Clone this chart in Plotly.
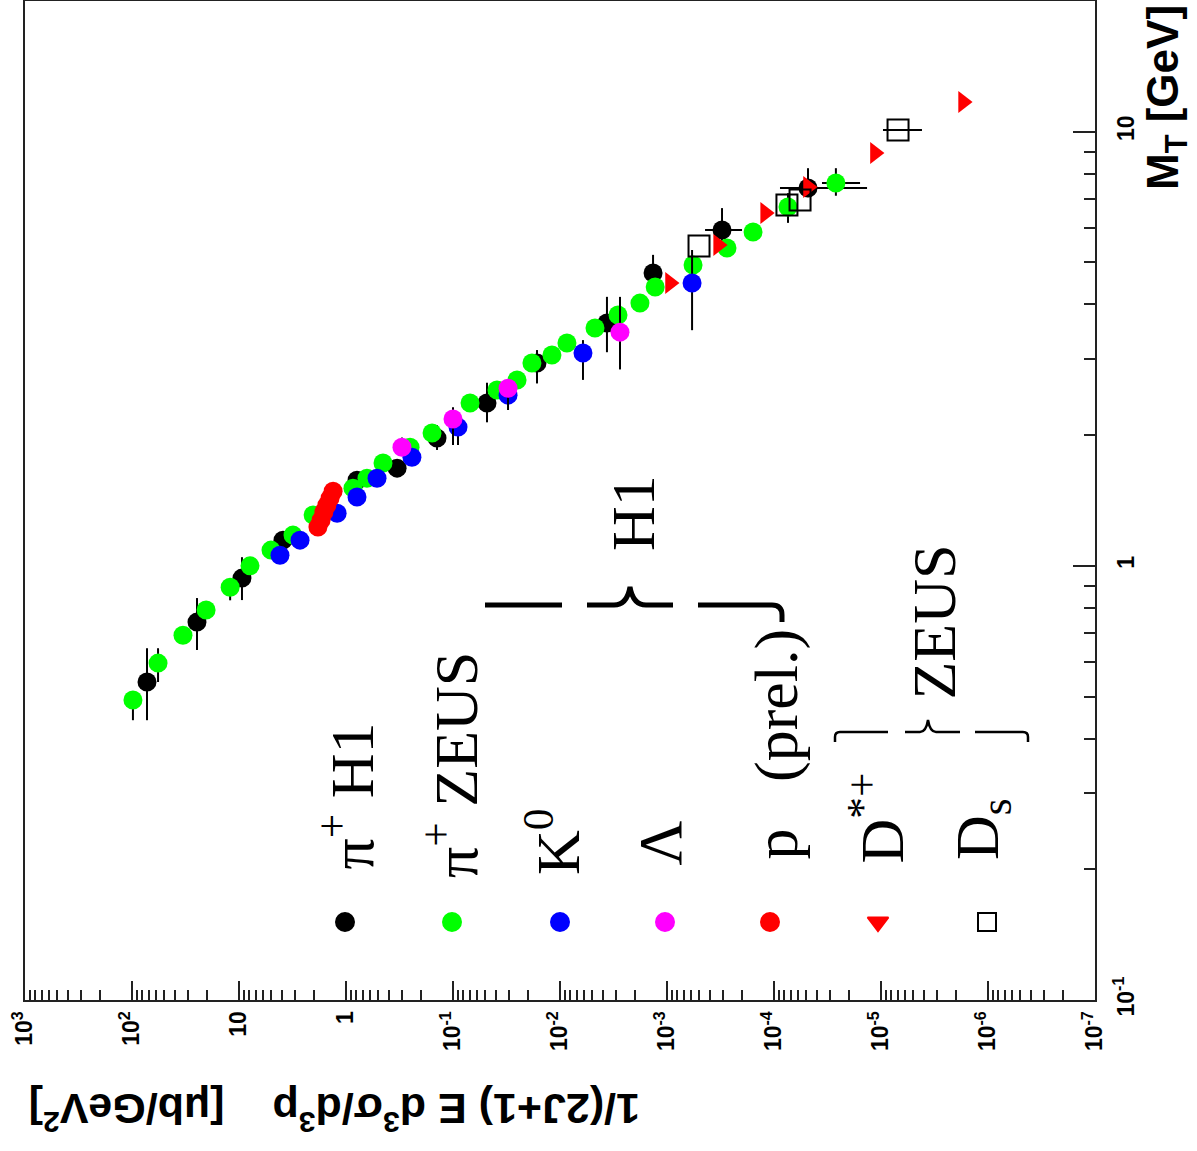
import numpy as np
import plotly.graph_objects as go

# ---------------- data (x: cross section [ub/GeV^2], y: M_T [GeV]) ----------------
# pi+ H1 (black)
pih1_xs = [72.4, 24.7, 9.38, 3.88, 0.789, 0.333, 0.141, 0.0481, 0.0164, 0.00364, 0.00135, 0.000306, 4.81e-5]
pih1_mt = [0.540, 0.742, 0.937, 1.146, 1.575, 1.679, 1.969, 2.371, 2.931, 3.625, 4.724, 5.938, 7.42]
pih1_mt_up = [0.106, 0.101, 0.110, 0.04, 0.04, 0.04, 0.14, 0.27, 0.21, 0.54, 0.48, 0.73, 0.82]
pih1_mt_dn = [0.099, 0.102, 0.103, 0.04, 0.04, 0.04, 0.12, 0.23, 0.30, 0.52, 0.34, 0.74, 0.35]
pih1_xs_up = [0, 0, 0, 0, 0, 0, 0, 0, 0, 0, 0, 1.35e-4, 3.98e-5]
pih1_xs_dn = [0, 0, 0, 0, 0, 0, 0, 0, 0, 0, 0, 1.07e-4, 3.46e-5]

# pi+ ZEUS (green)
piz_xs = [98, 57.1, 33.4, 20.3, 12.1, 7.89, 5.02, 3.13, 2.03, 0.861, 0.637, 0.451, 0.252, 0.157,
          0.0693, 0.0388, 0.0252, 0.0183, 0.0119, 0.00861, 0.00471, 0.00287, 0.00179, 0.00129,
          0.000571, 0.000275, 0.000157, 7.40e-5, 2.64e-5]
piz_mt = [0.491, 0.597, 0.692, 0.791, 0.893, 1.0, 1.087, 1.177, 1.309, 1.510, 1.592, 1.725, 1.875, 2.022,
          2.371, 2.540, 2.679, 2.931, 3.058, 3.259, 3.530, 3.782, 4.029, 4.387,
          4.930, 5.395, 5.872, 6.706, 7.62]
piz_mt_up = [0, 0.049, 0, 0, 0, 0, 0, 0, 0, 0, 0, 0, 0, 0, 0, 0, 0, 0, 0, 0, 0, 0, 0, 0, 0, 0, 0, 0.51, 0.62]
piz_mt_dn = [0.05, 0.057, 0.03, 0, 0.06, 0, 0, 0, 0, 0, 0, 0, 0, 0, 0, 0, 0, 0, 0, 0, 0, 0, 0, 0, 0, 0, 0, 0.54, 0.50]
piz_xs_up = [0] * 28 + [0.92e-5]
piz_xs_dn = [0] * 28 + [1.07e-5]

# K0 (blue)
k0_xs = [4.14, 2.69, 1.21, 0.789, 0.513, 0.242, 0.0898, 0.0306, 0.00610, 0.000583]
k0_mt = [1.058, 1.146, 1.322, 1.440, 1.592, 1.779, 2.087, 2.473, 3.091, 4.480]
k0_mt_up = [0, 0, 0, 0, 0, 0, 0.05, 0.05, 0.22, 0.86]
k0_mt_dn = [0, 0, 0, 0, 0, 0, 0.19, 0.10, 0.41, 0.99]

# Lambda (magenta)
lam_xs = [0.300, 0.100, 0.0306, 0.00275]
lam_mt = [1.875, 2.178, 2.565, 3.454]
lam_mt_up = [0.10, 0.14, 0.05, 0.71]
lam_mt_dn = [0.05, 0.28, 0.28, 0.62]

# p (prel.) (red)
p_xs = [1.83, 1.71, 1.61, 1.51, 1.41, 1.32]
p_mt = [1.228, 1.274, 1.330, 1.380, 1.432, 1.486]

# D*+ ZEUS (red triangles)
dst_xs = [9.38e-4, 3.33e-4, 1.21e-4, 4.81e-5, 1.14e-5, 1.71e-6]
dst_mt = [4.480, 5.484, 6.498, 7.46, 8.93, 11.71]

# Ds ZEUS (open squares)
ds_xs = [5.02e-4, 7.57e-5, 5.71e-5, 6.93e-6]
ds_mt = [5.455, 6.777, 6.961, 10.09]
ds_xs_up = [0, 0, 0, 2.65e-6]
ds_xs_dn = [0, 0, 0, 2.79e-6]

# axis ticks
xs_tick_vals = [1e3, 1e2, 10, 1, 1e-1, 1e-2, 1e-3, 1e-4, 1e-5, 1e-6, 1e-7]
xs_tick_text = ["10<sup>3</sup>", "10<sup>2</sup>", "10", "1", "10<sup>-1</sup>", "10<sup>-2</sup>",
                "10<sup>-3</sup>", "10<sup>-4</sup>", "10<sup>-5</sup>", "10<sup>-6</sup>", "10<sup>-7</sup>"]
mt_tick_vals = [0.1, 1, 10]
mt_tick_text = ["10<sup>-1</sup>", "1", "10"]

# legend
leg_labels = ["π<sup>+</sup> H1", "π<sup>+</sup> ZEUS", "K<sup>0</sup>", "Λ",
              "p\u00a0\u00a0\u00a0(prel.)", "D<sup>*+</sup>", "D<sub>s</sub>"]
leg_colors = ["black", "#00ff00", "#0000ff", "#ff00ff", "#ff0000", "#ff0000", "black"]
leg_symbols = ["circle", "circle", "circle", "circle", "circle", "triangle-down", "square-open"]

# ---------------- geometry helpers (pixel -> paper) ----------------
L, R, T, B = 25, 1095, 1, 1000


def px(v):
    return (v - L) / (R - L)


def py(v):
    return (B - v) / (B - T)


fig = go.Figure()


def err(up, dn, th=2):
    return dict(type="data", symmetric=False, array=up, arrayminus=dn,
                color="black", thickness=th, width=0)


fig.add_trace(go.Scatter(x=pih1_xs, y=pih1_mt, mode="markers",
                         marker=dict(color="black", size=19, symbol="circle"),
                         error_y=err(pih1_mt_up, pih1_mt_dn), error_x=err(pih1_xs_up, pih1_xs_dn)))
fig.add_trace(go.Scatter(x=piz_xs, y=piz_mt, mode="markers",
                         marker=dict(color="#00ff00", size=19, symbol="circle"),
                         error_y=err(piz_mt_up, piz_mt_dn), error_x=err(piz_xs_up, piz_xs_dn)))
fig.add_trace(go.Scatter(x=k0_xs, y=k0_mt, mode="markers",
                         marker=dict(color="#0000ff", size=19, symbol="circle"),
                         error_y=err(k0_mt_up, k0_mt_dn)))
fig.add_trace(go.Scatter(x=lam_xs, y=lam_mt, mode="markers",
                         marker=dict(color="#ff00ff", size=19, symbol="circle"),
                         error_y=err(lam_mt_up, lam_mt_dn)))
fig.add_trace(go.Scatter(x=p_xs, y=p_mt, mode="markers",
                         marker=dict(color="#ff0000", size=19, symbol="circle")))
fig.add_trace(go.Scatter(x=dst_xs, y=dst_mt, mode="markers",
                         marker=dict(color="#ff0000", size=19, symbol="triangle-right")))
fig.add_trace(go.Scatter(x=ds_xs, y=ds_mt, mode="markers",
                         marker=dict(color="black", size=21, symbol="square-open", line=dict(width=2)),
                         error_x=err(ds_xs_up, ds_xs_dn)))

# legend markers on an invisible overlay axis in paper units
leg_px = [345, 452, 560, 665, 770, 878, 987]
fig.add_trace(go.Scatter(x=[px(v) for v in leg_px], y=[py(922)] * len(leg_px),
                         xaxis="x2", yaxis="y2", mode="markers", cliponaxis=False,
                         marker=dict(color=leg_colors, symbol=leg_symbols, size=18,
                                     line=dict(width=2, color=leg_colors))))

minor_vals_x = [m * 10.0 ** k for k in range(-7, 3) for m in range(2, 10)]
minor_vals_y = [m * 10.0 ** k for k in range(-1, 2) for m in range(2, 10)]

axcol = "#222222"
fig.update_layout(
    width=1197, height=1151,
    margin=dict(l=L, r=1197 - R, t=T, b=1151 - B),
    paper_bgcolor="white", plot_bgcolor="white",
    showlegend=False,
    xaxis=dict(type="log", range=[3, -7], showgrid=False, zeroline=False, automargin=False,
               showline=True, mirror=True, linecolor=axcol, linewidth=2,
               ticks="inside", ticklen=19, tickwidth=2, tickcolor=axcol,
               tickmode="array", tickvals=xs_tick_vals, ticktext=xs_tick_text,
               tickangle=-90,
               tickfont=dict(family="Liberation Sans", size=23, color="black", weight="bold"),
               minor=dict(tickmode="array", tickvals=minor_vals_x, ticks="inside",
                          ticklen=10, tickwidth=2, tickcolor=axcol, showgrid=False)),
    yaxis=dict(type="log", range=[-1, np.log10(20)], side="right", showgrid=False, zeroline=False,
               automargin=False, ticklabelstandoff=9,
               showline=True, mirror=True, linecolor=axcol, linewidth=2,
               ticks="inside", ticklen=22, tickwidth=2, tickcolor=axcol,
               tickmode="array", tickvals=mt_tick_vals, ticktext=mt_tick_text,
               tickangle=-90,
               tickfont=dict(family="Liberation Sans", size=23, color="black", weight="bold"),
               minor=dict(tickmode="array", tickvals=minor_vals_y, ticks="inside",
                          ticklen=11, tickwidth=2, tickcolor=axcol, showgrid=False)),
    xaxis2=dict(domain=[0, 1], range=[0, 1], visible=False, overlaying="x", anchor="y2"),
    yaxis2=dict(domain=[0, 1], range=[0, 1], visible=False, overlaying="y", anchor="x2"),
)

ann = []
serif = dict(family="Liberation Serif", size=62, color="black")
leg_text_bottom = [872, 880, 877, 868, 862, 866, 862]
leg_text_x = [346, 451, 553, 659, 776, 876, 981]
for lab, xx, yb in zip(leg_labels, leg_text_x, leg_text_bottom):
    ann.append(dict(text=lab, x=px(xx), y=py(yb), xref="paper", yref="paper",
                    xanchor="center", yanchor="bottom", textangle=-90, showarrow=False, font=serif))
ann.append(dict(text="H1", x=px(633), y=py(553), xref="paper", yref="paper",
                xanchor="center", yanchor="bottom", textangle=-90, showarrow=False, font=serif))
ann.append(dict(text="ZEUS", x=px(933), y=py(702), xref="paper", yref="paper",
                xanchor="center", yanchor="bottom", textangle=-90, showarrow=False, font=serif))
# axis titles
ann.append(dict(text="1/(2J+1) E d<sup>3</sup>σ/d<sup>3</sup>p\u00a0\u00a0\u00a0\u00a0[μb/GeV<sup>2</sup>]",
                x=px(335), y=py(1112), xref="paper", yref="paper", xanchor="center", yanchor="middle",
                textangle=180, showarrow=False,
                font=dict(family="Liberation Sans", size=43, color="black", weight="bold")))
ann.append(dict(text="M<sub>T</sub> [GeV]", x=px(1166), y=py(98), xref="paper", yref="paper",
                xanchor="center", yanchor="middle", textangle=-90, showarrow=False,
                font=dict(family="Liberation Sans", size=44, color="black", weight="bold")))
fig.update_layout(annotations=ann)


def P(pts):
    s = ""
    for cmd, coords in pts:
        s += cmd + " ".join(f"{px(a):.5f},{py(b):.5f}" for a, b in coords) + " "
    return s.strip()


shapes = []
brace_h1 = [
    P([("M", [(485, 605)]), ("L", [(562, 605)])]),
    P([("M", [(587, 605)]), ("L", [(614, 605)]), ("Q", [(627, 605), (630, 587)]),
       ("Q", [(633, 605), (646, 605)]), ("L", [(673, 605)])]),
    P([("M", [(698, 605)]), ("L", [(772, 605)]), ("Q", [(782, 605), (782, 615)]), ("L", [(782, 622)])]),
]
for pth in brace_h1:
    shapes.append(dict(type="path", path=pth, xref="paper", yref="paper",
                       line=dict(color="black", width=5)))
brace_z = [
    P([("M", [(835, 742)]), ("L", [(835, 737)]), ("Q", [(835, 732), (840, 732)]), ("L", [(888, 732)])]),
    P([("M", [(905, 732)]), ("L", [(920, 732)]), ("Q", [(926, 732), (928, 720)]),
       ("Q", [(930, 732), (936, 732)]), ("L", [(960, 732)])]),
    P([("M", [(975, 732)]), ("L", [(1023, 732)]), ("Q", [(1028, 732), (1028, 737)]), ("L", [(1028, 742)])]),
]
for pth in brace_z:
    shapes.append(dict(type="path", path=pth, xref="paper", yref="paper",
                       line=dict(color="black", width=2.5)))
fig.update_layout(shapes=shapes)

fig.write_html("out.html", config={"displayModeBar": False},
               post_script="document.body.style.margin='0px';")
